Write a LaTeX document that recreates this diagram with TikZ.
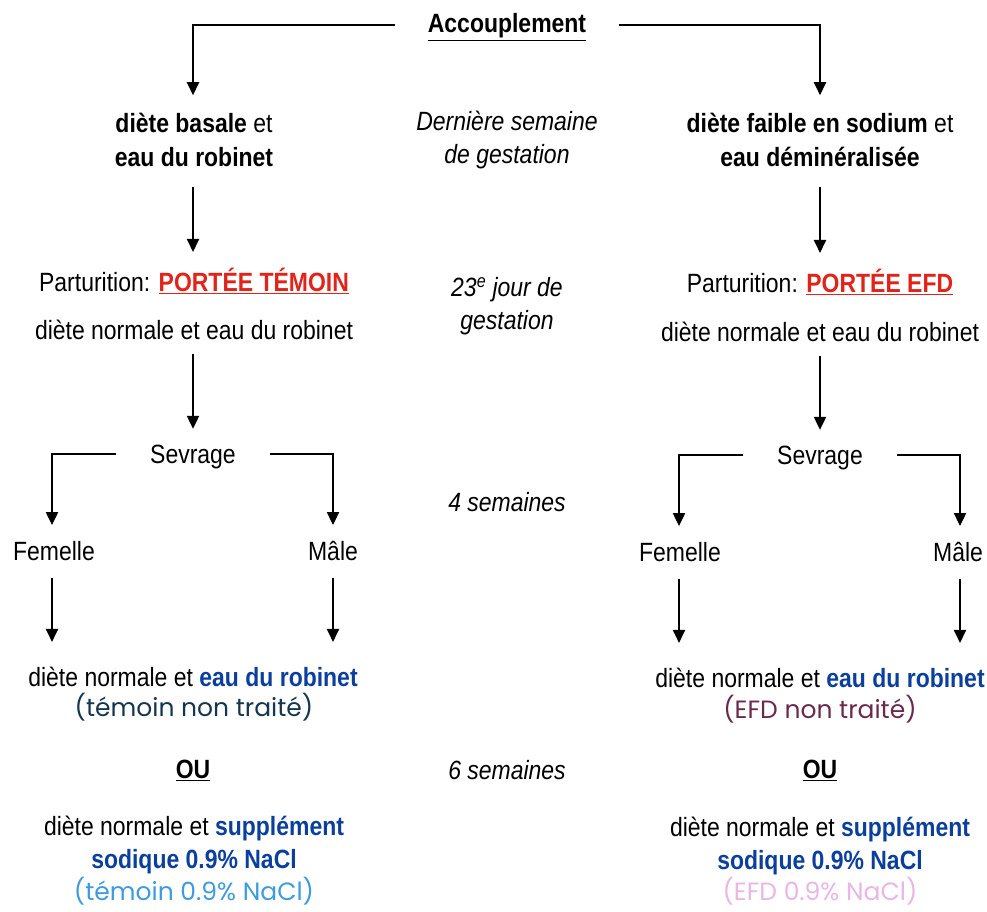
\documentclass[tikz,border=0pt]{standalone}
\usepackage{fontspec}
\setmainfont[FakeStretch=0.87]{Liberation Sans}
\newfontfamily\comicf{Poppins}
\usetikzlibrary{arrows.meta}
\definecolor{redP}{HTML}{E2231A}
\definecolor{blueB}{HTML}{0B3F9E}
\definecolor{navyT}{HTML}{16354F}
\definecolor{maroonE}{HTML}{6A2A4C}
\definecolor{lblue}{HTML}{3E9BDF}
\definecolor{pinkE}{HTML}{EAB6E4}
\begin{document}
\begin{tikzpicture}[x=1pt,y=-1pt,
  txt/.style={inner sep=0pt,align=center,font=\fontsize{26.4}{33.5}\selectfont},
  comicnode/.style={inner sep=0pt,align=center,font=\comicf\fontsize{25}{33.5}\selectfont},
  arr/.style={line width=2pt,-{Triangle[width=12pt,length=13pt]}}]
\useasboundingbox (0,0) rectangle (987,911);
% top
\node[txt] (acc) at (507,27) {\textbf{\underline{Accouplement}}};
\node[txt] (dbl) at (194,140) {\textbf{diète basale} et\\\textbf{eau du robinet}};
\node[txt] (dbr) at (820,140) {\textbf{diète faible en sodium} et\\\textbf{eau déminéralisée}};
\node[txt] (mid1) at (507,140) {\itshape Dernière semaine\\\itshape de gestation};
\draw[arr] ([xshift=-33pt,yshift=2pt]acc.west) -| ([xshift=-1pt,yshift=18pt]dbl.north);
\draw[arr] ([xshift=33pt,yshift=2pt]acc.east) -| ([yshift=18pt]dbr.north);
% parturition
\node[txt] (partL) at (194,281) {Parturition: \textcolor{redP}{\textbf{\underline{PORTÉE TÉMOIN}}}};
\node[txt] (partR) at (820,282) {Parturition: \textcolor{redP}{\textbf{\underline{PORTÉE EFD}}}};
\node[txt] (mid2) at (507,306) {\itshape 23\textsuperscript{e} jour de\\\itshape gestation};
\node[txt] (dnL) at (194,330) {diète normale et eau du robinet};
\node[txt] (dnR) at (820,332) {diète normale et eau du robinet};
\draw[arr] ([xshift=-1pt,yshift=-20pt]dbl.south) -- ([xshift=-1pt,yshift=16pt]partL.north);
\draw[arr] ([yshift=-20pt]dbr.south) -- ([yshift=16pt]partR.north);
% sevrage
\node[txt] (sevL) at (193,457) {Sevrage};
\node[txt] (sevR) at (820,458) {Sevrage};
\node[txt] (mid3) at (507,502) {\itshape 4 semaines};
\draw[arr] ([yshift=-14pt]sevL.north |- dnL.south) -- ([yshift=16pt]sevL.north);
\draw[arr] ([yshift=-14pt]dnR.south) -- ([yshift=16pt]sevR.north);
\node[txt] (femL) at (54,551) {Femelle};
\node[txt] (malL) at (333,551) {Mâle};
\node[txt] (femR) at (680,552) {Femelle};
\node[txt] (malR) at (958,552) {Mâle};
\draw[arr] ([xshift=-34pt,yshift=3pt]sevL.west) -| ([xshift=-2pt,yshift=16pt]femL.north);
\draw[arr] ([xshift=34pt,yshift=3pt]sevL.east) -| ([yshift=16pt]malL.north);
\draw[arr] ([xshift=-34pt,yshift=3pt]sevR.west) -| ([xshift=-1pt,yshift=16pt]femR.north);
\draw[arr] ([xshift=34pt,yshift=3pt]sevR.east) -| ([xshift=2pt,yshift=16pt]malR.north);
% final
\node[txt] (fL1) at (193,677) {diète normale et \textcolor{blueB}{\textbf{eau du robinet}}};
\node[comicnode,text=navyT] (fL2) at (194,707) {(témoin non traité)};
\node[txt] (fR1) at (820,678) {diète normale et \textcolor{blueB}{\textbf{eau du robinet}}};
\node[comicnode,text=maroonE] (fR2) at (820,709) {(EFD non traité)};
\draw[arr] ([xshift=-2pt,yshift=-17pt]femL.south) -- ([xshift=-2pt,yshift=25pt]fL1.north -| femL.south);
\draw[arr] ([yshift=-17pt]malL.south) -- ([yshift=25pt]fL1.north -| malL.south);
\draw[arr] ([xshift=-1pt,yshift=-17pt]femR.south) -- ([xshift=-1pt,yshift=25pt]fR1.north -| femR.south);
\draw[arr] ([xshift=2pt,yshift=-17pt]malR.south) -- ([xshift=2pt,yshift=25pt]fR1.north -| malR.south);
\node[txt] (ouL) at (193,770) {\textbf{\underline{OU}}};
\node[txt] (ouR) at (820,770) {\textbf{\underline{OU}}};
\node[txt] (mid4) at (507,770) {\itshape 6 semaines};
\node[txt] (sL) at (194,845) {diète normale et \textcolor{blueB}{\textbf{supplément}}\\\textcolor{blueB}{\textbf{sodique 0.9\% NaCl}}};
\node[comicnode,text=lblue] (sL3) at (194,891) {(témoin 0.9\% NaCl)};
\node[txt] (sR) at (820,846) {diète normale et \textcolor{blueB}{\textbf{supplément}}\\\textcolor{blueB}{\textbf{sodique 0.9\% NaCl}}};
\node[comicnode,text=pinkE] (sR3) at (820,891) {(EFD 0.9\% NaCl)};
\end{tikzpicture}
\end{document}
